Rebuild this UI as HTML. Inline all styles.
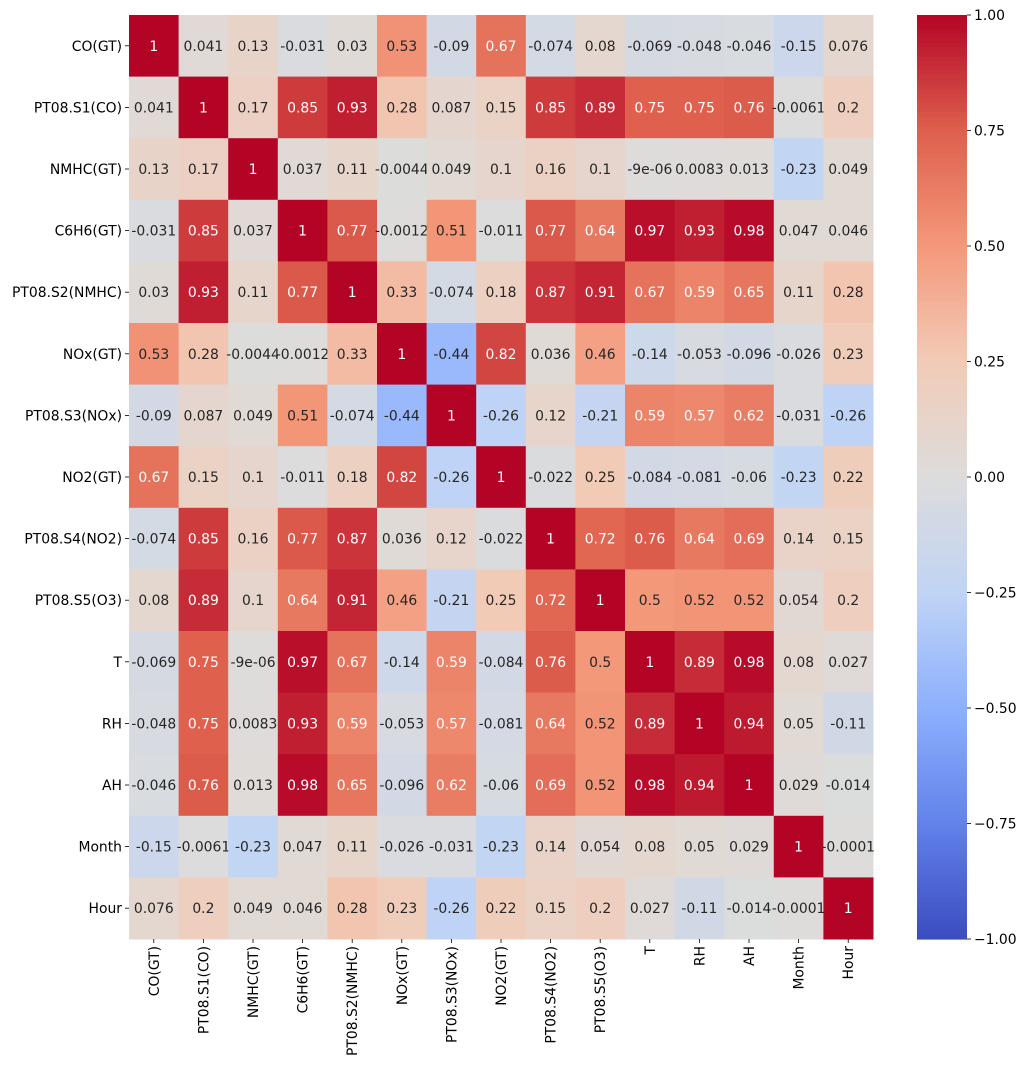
<!DOCTYPE html>
<html><head><meta charset="utf-8">
<style>
html,body{margin:0;padding:0;background:#fff;}
svg{display:block;font-family:"DejaVu Sans","Liberation Sans",sans-serif;}
</style></head>
<body>
<svg id="chart" width="1028" height="1068" viewBox="0 0 1028 1068" xmlns="http://www.w3.org/2000/svg"></svg>
<script>
const categories = ["CO(GT)","PT08.S1(CO)","NMHC(GT)","C6H6(GT)","PT08.S2(NMHC)","NOx(GT)","PT08.S3(NOx)","NO2(GT)","PT08.S4(NO2)","PT08.S5(O3)","T","RH","AH","Month","Hour"];
const rowCO    = [1,0.041,0.13,-0.031,0.03,0.53,-0.09,0.67,-0.074,0.08,-0.069,-0.048,-0.046,-0.15,0.076];
const rowS1    = [0.041,1,0.17,0.85,0.93,0.28,0.087,0.15,0.85,0.89,0.75,0.75,0.76,-0.0061,0.2];
const rowNMHC  = [0.13,0.17,1,0.037,0.11,-0.0044,0.049,0.1,0.16,0.1,-9e-6,0.0083,0.013,-0.23,0.049];
const rowC6H6  = [-0.031,0.85,0.037,1,0.77,-0.0012,0.51,-0.011,0.77,0.64,0.97,0.93,0.98,0.047,0.046];
const rowS2    = [0.03,0.93,0.11,0.77,1,0.33,-0.074,0.18,0.87,0.91,0.67,0.59,0.65,0.11,0.28];
const rowNOx   = [0.53,0.28,-0.0044,-0.0012,0.33,1,-0.44,0.82,0.036,0.46,-0.14,-0.053,-0.096,-0.026,0.23];
const rowS3    = [-0.09,0.087,0.049,0.51,-0.074,-0.44,1,-0.26,0.12,-0.21,0.59,0.57,0.62,-0.031,-0.26];
const rowNO2   = [0.67,0.15,0.1,-0.011,0.18,0.82,-0.26,1,-0.022,0.25,-0.084,-0.081,-0.06,-0.23,0.22];
const rowS4    = [-0.074,0.85,0.16,0.77,0.87,0.036,0.12,-0.022,1,0.72,0.76,0.64,0.69,0.14,0.15];
const rowS5    = [0.08,0.89,0.1,0.64,0.91,0.46,-0.21,0.25,0.72,1,0.5,0.52,0.52,0.054,0.2];
const rowT     = [-0.069,0.75,-9e-6,0.97,0.67,-0.14,0.59,-0.084,0.76,0.5,1,0.89,0.98,0.08,0.027];
const rowRH    = [-0.048,0.75,0.0083,0.93,0.59,-0.053,0.57,-0.081,0.64,0.52,0.89,1,0.94,0.05,-0.11];
const rowAH    = [-0.046,0.76,0.013,0.98,0.65,-0.096,0.62,-0.06,0.69,0.52,0.98,0.94,1,0.029,-0.014];
const rowMonth = [-0.15,-0.0061,-0.23,0.047,0.11,-0.026,-0.031,-0.23,0.14,0.054,0.08,0.05,0.029,1,-0.0001];
const rowHour  = [0.076,0.2,0.049,0.046,0.28,0.23,-0.26,0.22,0.15,0.2,0.027,-0.11,-0.014,-0.0001,1];
const matrix = [rowCO,rowS1,rowNMHC,rowC6H6,rowS2,rowNOx,rowS3,rowNO2,rowS4,rowS5,rowT,rowRH,rowAH,rowMonth,rowHour];
const cbarTicks = [1,0.75,0.5,0.25,0,-0.25,-0.5,-0.75,-1];
const cbarTickLabels = ["1.00","0.75","0.50","0.25","0.00","\u22120.25","\u22120.50","\u22120.75","\u22121.00"];

const NS="http://www.w3.org/2000/svg";
const svg=document.getElementById('chart');
const X0=129,X1=873,Y0=15,Y1=939;
const n=categories.length, cw=(X1-X0)/n, ch=(Y1-Y0)/n;
const xPos=i=>X0+i*cw, yPos=i=>Y0+i*ch;
const CB0=917,CB1=967;
const cbY=v=>Y0+(1-v)/2*(Y1-Y0);
const FS=13.9;

const stops=[[0,59,76,192],[0.125,98,130,234],[0.25,141,176,254],[0.375,192,212,245],[0.5,221,220,219],[0.625,242,203,183],[0.75,244,152,122],[0.875,222,96,77],[1,180,4,38]];
function cmap(v){let t=(v+1)/2;t=Math.max(0,Math.min(1,t));
 for(let k=0;k<stops.length-1;k++){const a=stops[k],b=stops[k+1];
  if(t<=b[0]){const f=(t-a[0])/(b[0]-a[0]);return [0,1,2].map(j=>Math.round(a[j+1]+(b[j+1]-a[j+1])*f));}}
 return [180,4,38];}
function lum(c){const l=c.map(x=>{x/=255;return x<=0.03928?x/12.92:Math.pow((x+0.055)/1.055,2.4);});return 0.2126*l[0]+0.7152*l[1]+0.0722*l[2];}
function fmtG(v){if(v===0)return"0";const e=Math.floor(Math.log10(Math.abs(v)));
 if(e<-4){let s=v.toExponential(1).replace(/\.?0+e/,'e');const m=s.match(/e([+-])(\d+)/);return s.replace(/e[+-]\d+/,'e'+m[1]+(m[2].length<2?'0'+m[2]:m[2]));}
 return String(Number(v.toPrecision(2)));}
function el(tag,attrs,parent){const e=document.createElementNS(NS,tag);for(const k in attrs)e.setAttribute(k,attrs[k]);(parent||svg).appendChild(e);return e;}

const cells=el('g',{});


for(let r=0;r<n;r++)for(let c=0;c<n;c++){
 const v=matrix[r][c],col=cmap(v);
 const rect=el('rect',{x:xPos(c),y:yPos(r),width:cw+0.5,height:ch+0.5,fill:`rgb(${col})`},cells);
 
 
 const t=el('text',{x:xPos(c)+cw/2,y:yPos(r)+ch/2+5,'text-anchor':'middle','font-size':FS,fill:lum(col)<0.385?'#fff':'#262626'},cells);
 t.textContent=fmtG(v);
 
 
}
for(let i=0;i<n;i++){
 el('line',{x1:X0-4,x2:X0,y1:yPos(i)+ch/2,y2:yPos(i)+ch/2,stroke:'#000','stroke-width':0.8});
 const yl=el('text',{x:X0-7,y:yPos(i)+ch/2+5,'text-anchor':'end','font-size':FS,fill:'#000'});
 yl.textContent=categories[i];
 
 
 const cx=xPos(i)+cw/2;
 el('line',{x1:cx,x2:cx,y1:Y1,y2:Y1+4,stroke:'#000','stroke-width':0.8});
 const xl=el('text',{x:cx+5,y:Y1+7,'text-anchor':'end','font-size':FS,fill:'#000',transform:`rotate(-90 ${cx+5} ${Y1+7})`});
 xl.textContent=categories[i];
 
 
}
const cb=el('g',{});


const steps=200;
for(let s=0;s<steps;s++){const v=1-2*s/steps;const col=cmap(v-1/steps);
 el('rect',{x:CB0,y:cbY(v),width:CB1-CB0,height:(Y1-Y0)/steps+0.6,fill:`rgb(${col})`},cb);}
cbarTicks.forEach((v,i)=>{const y=cbY(v);
 el('line',{x1:CB1,x2:CB1+4,y1:y,y2:y,stroke:'#000','stroke-width':0.8},cb);
 const t=el('text',{x:CB1+7,y:y+5,'font-size':FS,fill:'#000'},cb);
 t.textContent=cbarTickLabels[i];
 
 
});
</script>
</body></html>
